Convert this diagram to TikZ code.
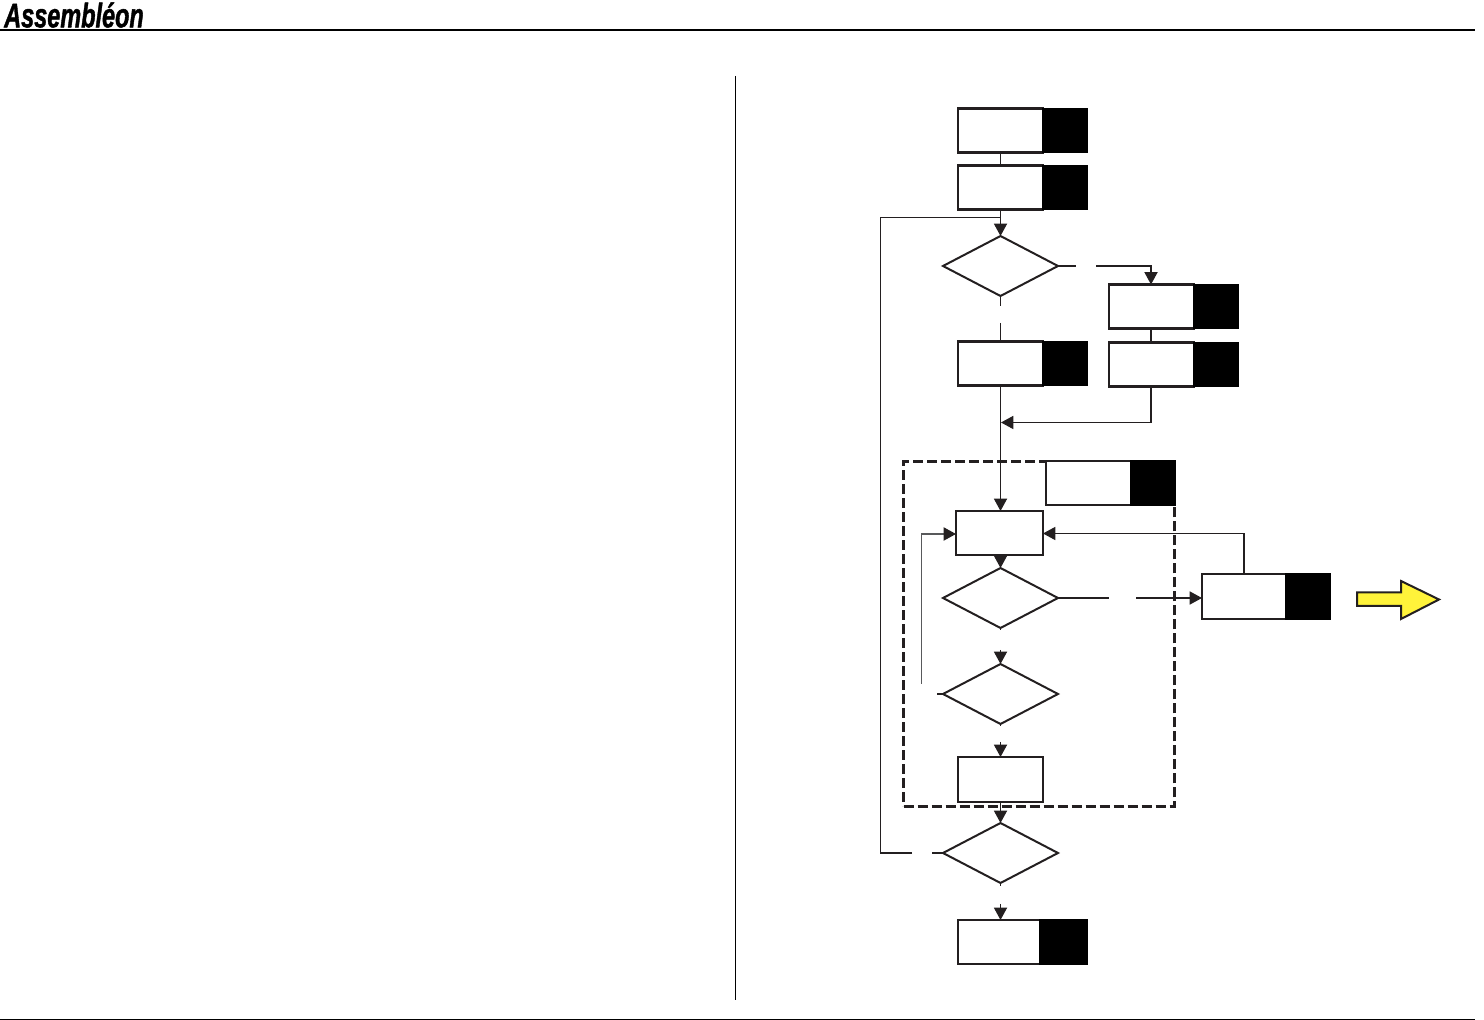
\documentclass[tikz,border=0pt]{standalone}
\usepackage{fontspec}
\setmainfont{Liberation Sans}
\newfontfamily\logofont[BoldItalicFeatures={FakeBold=1.5}]{Liberation Sans}
\usetikzlibrary{arrows.meta,shapes.geometric}
\definecolor{ink}{HTML}{231F20}
\definecolor{arrowyellow}{HTML}{FFF33A}
\definecolor{greyline}{HTML}{58595B}
\tikzset{
  flow/.style={draw=ink,line width=0.55pt},
  arr/.style={flow,-{Triangle[length=6.2pt,width=6.6pt,color=ink]}},
  whitebox/.style={draw=ink,fill=white,line width=1.2pt,anchor=north west,minimum width=42.5pt,minimum height=22pt,inner sep=0pt,outer sep=0pt},
  blackbox/.style={draw=black,fill=black,line width=0.6pt,anchor=north west,minimum width=22pt,minimum height=22pt,inner sep=0pt,outer sep=0pt},
  decide/.style={diamond,draw=ink,fill=white,line width=1pt,minimum width=57.5pt,minimum height=30pt,shape aspect=1.95,inner sep=0pt,outer sep=0pt},
  rule/.style={draw=black,line width=0.5pt},
  groupframe/.style={draw=ink,line width=1.25pt,dash pattern=on 5pt off 2pt},
  bigarrow/.style={draw=ink,fill=arrowyellow,line width=1pt,line join=miter}
}
\begin{document}
\begin{tikzpicture}[x=0.5pt,y=-0.5pt]
\useasboundingbox (0,0) rectangle (1484,1020);
% page furniture
\node[anchor=west,inner sep=0pt,xscale=0.69,font=\logofont\bfseries\itshape\fontsize{17}{17}\selectfont] (logo) at (4,15) {Assembléon};
\coordinate (topl) at (0,30.5); \coordinate (topr) at (1475,30.5);
\draw[draw=black,line width=1pt] (topl) -- (topr);
\coordinate (botl) at (0,1019.5); \coordinate (botr) at (1475,1019.5);
\draw[rule] (botl) -- (botr);
\coordinate (divt) at (735.5,76); \coordinate (divb) at (735.5,1000);
\draw[rule] (divt) -- (divb);
% dashed group
\node[groupframe,anchor=north west,minimum width=135.5pt,minimum height=172.5pt,inner sep=0pt,outer sep=0pt] (group) at (903.5,461.5) {};
% boxes
\node[whitebox] (b1) at (958,108.5) {};
\node[blackbox] (b1k) at (1043,108.5) {};
\node[whitebox] (b2) at (958,165.5) {};
\node[blackbox] (b2k) at (1043,165.5) {};
\node[decide] (d1) at (1000.5,266) {};
\node[whitebox] (b3) at (1109,284.5) {};
\node[blackbox] (b3k) at (1194,284.5) {};
\node[whitebox] (b4) at (1109,342.5) {};
\node[blackbox] (b4k) at (1194,342.5) {};
\node[whitebox] (b5) at (958,341.5) {};
\node[blackbox] (b5k) at (1043,341.5) {};
\node[whitebox] (b6) at (1046,461) {};
\node[blackbox] (b6k) at (1131,461) {};
\node[whitebox,minimum width=43.5pt] (b7) at (956,511) {};
\node[decide] (d2) at (1000.5,598) {};
\node[whitebox,minimum height=22.5pt] (b10) at (1202,574) {};
\node[blackbox,minimum height=22.5pt] (b10k) at (1286,574) {};
\node[decide] (d3) at (1000.5,694) {};
\node[whitebox,minimum height=22.5pt] (b8) at (958,757) {};
\node[decide] (d4) at (1000.5,853) {};
\node[whitebox,minimum width=41pt] (b9) at (958,920) {};
\node[blackbox,minimum width=23.5pt] (b9k) at (1040,920) {};
% free ends around the gaps
\coordinate (y1a) at (1076,266); \coordinate (y1b) at (1096,266); \coordinate (y1c) at (1151,266);
\coordinate (n1a) at (1000.5,306); \coordinate (n1b) at (1000.5,323);
\coordinate (j1) at (1151,422.5); \coordinate (j2) at (1001,422.5);
\coordinate (r1) at (1244,533.5);
\coordinate (y2a) at (1109,598); \coordinate (y2b) at (1136,598);
\coordinate (n2a) at (1000.5,630); \coordinate (n2b) at (1000.5,650);
\coordinate (l3a) at (937,694); \coordinate (l3b) at (921.5,684); \coordinate (l3c) at (921.5,534);
\coordinate (n3a) at (1000.5,726); \coordinate (n3b) at (1000.5,742);
\coordinate (l4a) at (932,853); \coordinate (l4b) at (912,853); \coordinate (l4c) at (880.5,853); \coordinate (l4d) at (880.5,217.5); \coordinate (l4e) at (1000.5,217.5);
\coordinate (n4a) at (1000.5,886); \coordinate (n4b) at (1000.5,904);
% connectors
\draw[flow] (d1.north |- b1.south) -- (d1.north |- b2.north);
\draw[arr] (d1.north |- b2.south) -- (d1.north);
\draw[flow] (d1.east) -- (y1a);
\draw[arr] (y1b) -- (y1c) -- (y1c |- b3.north);
\draw[flow] (d1.south) -- (n1a);
\draw[flow] (n1b) -- (n1b |- b5.north);
\draw[flow] (j1 |- b3.south) -- (j1 |- b4.north);
\draw[arr] (j1 |- b4.south) -- (j1) -- (j2);
\draw[arr] (d1.south |- b5.south) -- (d1.south |- b7.north);
\draw[arr] (d2.north |- b7.south) -- (d2.north);
\draw[arr] (r1 |- b10.north) -- (r1) -- (r1 -| b7.east);
\draw[flow] (d2.east) -- (y2a);
\draw[arr] (y2b) -- (y2b -| b10.west);
\draw[flow] (d2.south) -- (n2a);
\draw[arr] (n2b) -- (d3.north);
\draw[flow] (d3.west) -- (l3a);
\draw[arr,draw=greyline,line width=0.7pt] (l3b) -- (l3c) -- (l3c -| b7.west);
\draw[flow] (d3.south) -- (n3a);
\draw[arr] (n3b) -- (n3b |- b8.north);
\draw[arr] (d4.north |- b8.south) -- (d4.north);
\draw[flow] (d4.west) -- (l4a);
\draw[flow] (l4b) -- (l4c) -- (l4d) -- (l4e);
\draw[flow] (d4.south) -- (n4a);
\draw[arr] (n4b) -- (n4b |- b9.north);
% yellow arrow
\draw[bigarrow] (1357,592.5) -- (1401,592.5) -- (1401,581) -- (1439,599.5) -- (1401,619) -- (1401,606) -- (1357,606) -- cycle;
\end{tikzpicture}
\end{document}
